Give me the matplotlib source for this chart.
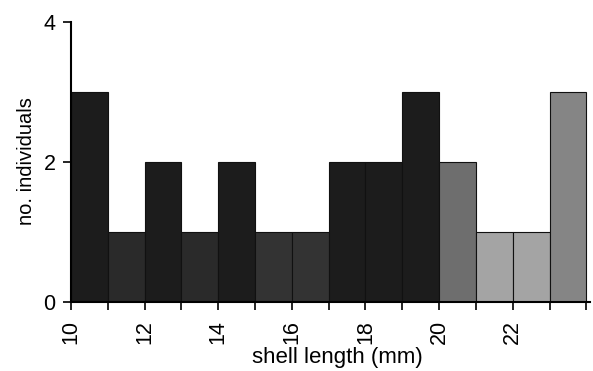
import matplotlib
matplotlib.use("Agg")
import matplotlib.pyplot as plt
import numpy as np

plt.rcParams['font.family'] = ['Liberation Sans', 'DejaVu Sans']

bin_left = [10, 11, 12, 13, 14, 15, 16, 17, 18, 19, 20, 21, 22, 23]
counts = [3, 1, 2, 1, 2, 1, 1, 2, 2, 3, 2, 1, 1, 3]
bar_colors = ['#1c1c1c', '#2a2a2a', '#1c1c1c', '#2a2a2a', '#1c1c1c', '#333333', '#333333',
              '#1c1c1c', '#1c1c1c', '#1c1c1c', '#6e6e6e', '#a4a4a4', '#a4a4a4', '#858585']
xtick_pos = list(range(10, 25))
xtick_labels = ['10', '', '12', '', '14', '', '16', '', '18', '', '20', '', '22', '', '']
ytick_pos = [0, 2, 4]

fig = plt.figure(figsize=(5.93, 3.71), dpi=100)
ax = fig.add_axes([71/593, 1-302/371, (590-71)/593, (302-22)/371])
ax.bar(bin_left, counts, width=1, align='edge', color=bar_colors,
       edgecolor='#111111', linewidth=0.8)
ax.set_xlim(10, 24.1)
ax.set_ylim(0, 4)
ax.set_xticks(xtick_pos)
ax.set_xticklabels(xtick_labels, rotation=90, fontsize=15.5)
ax.set_yticks(ytick_pos)
ax.set_yticklabels([str(v) for v in ytick_pos], fontsize=15.5)
ax.tick_params(axis='both', direction='out', length=6, width=1.2, color='black')
ax.tick_params(axis='x', pad=7)
ax.tick_params(axis='y', pad=5)
for s in ['top', 'right']:
    ax.spines[s].set_visible(False)
for s in ['left', 'bottom']:
    ax.spines[s].set_linewidth(1.5)
ax.set_xlabel('shell length (mm)', fontsize=16)
ax.xaxis.set_label_coords((337 - 71) / (590 - 71), -(358 - 302) / 280)
ax.xaxis.label.set_va('center')
ax.set_ylabel('no. individuals', fontsize=14.5)
ax.yaxis.set_label_coords(-(71 - 27) / (590 - 71), (302 - 161) / 280)
ax.yaxis.label.set_va('center')
fig.savefig('out.png', dpi=100)
